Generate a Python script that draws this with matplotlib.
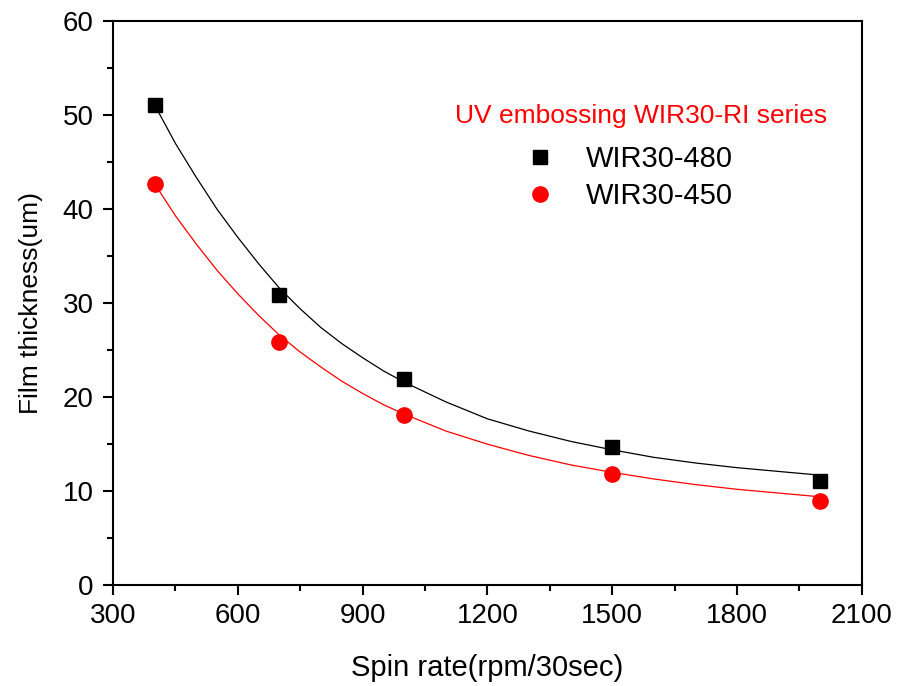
import matplotlib
matplotlib.use("Agg")
import matplotlib.pyplot as plt
from matplotlib.ticker import MultipleLocator

plt.rcParams["font.family"] = ["Liberation Sans", "DejaVu Sans"]

# measured points
spin_rate = [400, 700, 1000, 1500, 2000]
thick_480 = [51.1, 30.9, 21.9, 14.7, 11.1]
thick_450 = [42.7, 25.9, 18.1, 11.8, 9.0]

# fitted curves
curve_rpm = [400, 450, 500, 550, 600, 650, 700, 750, 800, 850, 900, 950,
             1000, 1100, 1200, 1300, 1400, 1500, 1600, 1700, 1800, 1900, 2000]
curve_480 = [51.1, 47.0, 43.4, 40.0, 37.0, 34.2, 31.6, 29.4, 27.4, 25.7,
             24.2, 22.8, 21.6, 19.5, 17.7, 16.4, 15.3, 14.4, 13.6, 13.0,
             12.5, 12.1, 11.7]
curve_450 = [42.7, 39.3, 36.3, 33.5, 31.0, 28.7, 26.6, 24.8, 23.2, 21.7,
             20.4, 19.2, 18.2, 16.4, 15.0, 13.8, 12.8, 12.0, 11.3, 10.7,
             10.2, 9.8, 9.4]

fig = plt.figure(figsize=(9, 6.86), dpi=100)
ax = fig.add_axes([0.1256, 0.147, 0.832, 0.822])

ax.plot(curve_rpm, curve_480, color="black", lw=0.9)
ax.plot(curve_rpm, curve_450, color="red", lw=0.9)
ax.plot(spin_rate, thick_480, "s", color="black", ms=10, label="WIR30-480")
ax.plot(spin_rate, thick_450, "o", color="red", ms=11, label="WIR30-450")

ax.set_xlim(300, 2100)
ax.set_ylim(0, 60)
ax.xaxis.set_major_locator(MultipleLocator(300))
ax.xaxis.set_minor_locator(MultipleLocator(150))
ax.yaxis.set_major_locator(MultipleLocator(10))
ax.yaxis.set_minor_locator(MultipleLocator(5))
ax.tick_params(which="major", direction="out", length=7, width=1.5, labelsize=20)
ax.tick_params(which="minor", direction="out", length=4, width=1.5)
ax.tick_params(axis="x", which="major", pad=6)
ax.tick_params(axis="y", which="major", pad=7)
for s in ax.spines.values():
    s.set_linewidth(1.5)

ax.set_xlabel("Spin rate(rpm/30sec)", fontsize=21, labelpad=18)
ax.set_ylabel("Film thickness(um)", fontsize=19, labelpad=14)

fig.text(641 / 900, 1 - 123 / 686, "UV embossing WIR30-RI series",
         color="red", fontsize=19, ha="center", va="baseline")
ax.legend(frameon=False, loc="upper left",
          bbox_to_anchor=(522 / 900, 1 - 145 / 686),
          bbox_transform=fig.transFigure, fontsize=21,
          borderpad=0, borderaxespad=0, handlelength=1.2,
          handletextpad=1.0, labelspacing=0.3)

fig.savefig("out.png", dpi=100)
